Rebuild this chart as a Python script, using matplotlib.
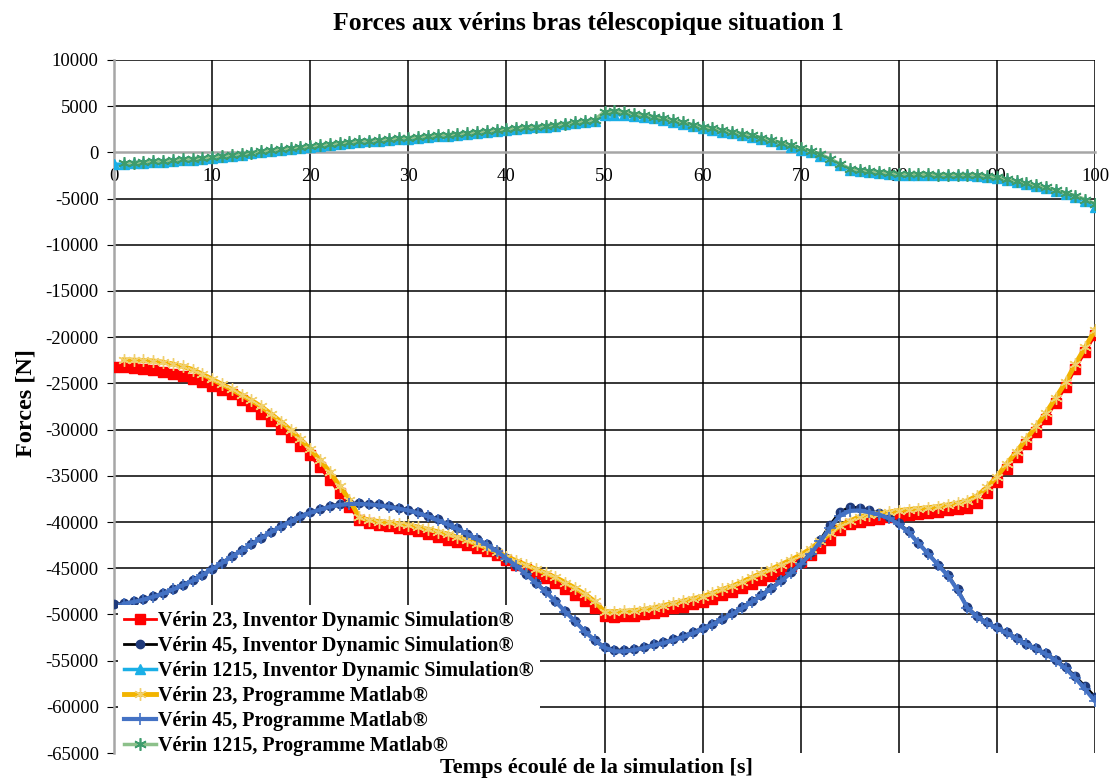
import numpy as np
import matplotlib.pyplot as plt
from matplotlib.ticker import MultipleLocator

plt.rcParams['font.family'] = ['Liberation Serif', 'DejaVu Serif']
plt.rcParams['axes.unicode_minus'] = False

# Temps [s]
t_inv = list(range(0, 101))
t_mat = list(range(1, 101))

# Forces [N] - Inventor Dynamic Simulation
verin23_inv = [
    -23200, -23250, -23300, -23400, -23550, -23750, -23980, -24250, -24550, -24900,
    -25280, -25700, -26200, -26750, -27500, -28300, -29100, -29950, -30850, -31800,
    -32800, -34100, -35450, -36900, -38330, -39800, -40150, -40300, -40450, -40600,
    -40750, -41000, -41300, -41600, -41900, -42200, -42500, -42800, -43150, -43600,
    -44100, -44600, -45100, -45600, -46100, -46650, -47250, -47850, -48500, -49300,
    -50200, -50250, -50200, -50150, -50000, -49800, -49600, -49350, -49150, -48900,
    -48700, -48350, -47950, -47550, -47150, -46700, -46250, -45800, -45300, -44800,
    -44280, -43600, -42800, -41900, -40900, -40200, -39960, -39800, -39650, -39500,
    -39340, -39220, -39100, -38990, -38870, -38750, -38630, -38450, -37900, -36900,
    -35630, -34300, -32950, -31600, -30250, -28800, -27100, -25400, -23400, -21600,
    -19800]
verin45_inv = [
    -48900, -48800, -48600, -48360, -48050, -47700, -47250, -46800, -46300, -45700,
    -45050, -44400, -43700, -43050, -42350, -41700, -41050, -40450, -39900, -39350,
    -38950, -38600, -38250, -38050, -37950, -37950, -38000, -38100, -38250, -38450,
    -38650, -38950, -39300, -39700, -40200, -40700, -41250, -41800, -42400, -43100,
    -43900, -44700, -45600, -46550, -47500, -48550, -49650, -50700, -51800, -52750,
    -53500, -53850, -53850, -53750, -53550, -53250, -53000, -52700, -52350, -51950,
    -51500, -51000, -50450, -49900, -49250, -48550, -47850, -47100, -46300, -45400,
    -44460, -43300, -41900, -40300, -38900, -38400, -38450, -38750, -39050, -39500,
    -40150, -41000, -42250, -43400, -44600, -45700, -47300, -49200, -50200, -50850,
    -51400, -51900, -52550, -53150, -53650, -54200, -54900, -55700, -56700, -57800,
    -58900]
verin1215_inv = [
    -1300, -1250, -1200, -1130, -1070, -1000, -930, -850, -770, -690,
    -600, -480, -360, -240, -120, 0, 120, 240, 360, 480,
    600, 700, 800, 900, 1000, 1100, 1180, 1260, 1340, 1420,
    1500, 1580, 1660, 1740, 1820, 1900, 2000, 2100, 2200, 2300,
    2400, 2500, 2600, 2700, 2800, 2900, 3020, 3150, 3280, 3450,
    4000, 4100, 4050, 3950, 3830, 3700, 3500, 3280, 3060, 2830,
    2600, 2420, 2240, 2060, 1880, 1700, 1450, 1180, 900, 600,
    300, 0, -350, -850, -1400, -1900, -2000, -2100, -2200, -2300,
    -2400, -2420, -2440, -2460, -2480, -2500, -2500, -2500, -2520, -2650,
    -2800, -3000, -3200, -3450, -3680, -3900, -4200, -4500, -4800, -5300,
    -5900]

# Forces [N] - Programme Matlab
verin23_mat = [
    -22450, -22480, -22520, -22570, -22700, -22900, -23150, -23500, -24000,
    -24550, -25100, -25650, -26250, -26850, -27500, -28300, -29150, -30050, -31050,
    -32130, -33300, -34600, -36100, -37600, -39500, -39800, -39950, -40050, -40180,
    -40320, -40550, -40800, -41050, -41300, -41650, -42000, -42400, -42800, -43250,
    -43740, -44200, -44650, -45100, -45550, -46000, -46550, -47150, -47800, -48600,
    -49700, -49700, -49650, -49590, -49450, -49300, -49050, -48800, -48550, -48300,
    -48070, -47700, -47300, -46950, -46500, -46000, -45550, -45100, -44600, -44100,
    -43560, -42900, -42100, -41200, -40400, -39900, -39420, -39250, -39100, -38930,
    -38760, -38650, -38550, -38450, -38330, -38150, -37950, -37700, -37150, -36250,
    -35090, -33700, -32400, -31000, -29650, -28200, -26550, -24900, -22900, -21100,
    -19200]
verin45_mat = [
    -48850, -48650, -48400, -48100, -47750, -47300, -46850, -46350, -45750,
    -45100, -44450, -43750, -43100, -42400, -41750, -41100, -40500, -39950, -39450,
    -39000, -38650, -38350, -38150, -38050, -38050, -38100, -38200, -38350, -38550,
    -38750, -39050, -39400, -39800, -40250, -40750, -41300, -41850, -42450, -43150,
    -43950, -44750, -45650, -46600, -47550, -48600, -49700, -50750, -51850, -52800,
    -53600, -54000, -54000, -53850, -53650, -53350, -53100, -52800, -52450, -52050,
    -51600, -51100, -50550, -50000, -49350, -48650, -47950, -47200, -46400, -45500,
    -44550, -43450, -42100, -40600, -39300, -38800, -38750, -38950, -39200, -39600,
    -40250, -41100, -42300, -43450, -44650, -45800, -47400, -49300, -50300, -50950,
    -51500, -52000, -52650, -53250, -53750, -54300, -55000, -55850, -56900, -58100,
    -59400]
verin1215_mat = [
    -1150, -1100, -1030, -970, -900, -830, -750, -670, -590,
    -500, -380, -260, -140, -20, 100, 220, 340, 460, 580,
    700, 800, 900, 1000, 1100, 1200, 1280, 1360, 1440, 1520,
    1600, 1680, 1760, 1840, 1920, 2000, 2100, 2200, 2300, 2400,
    2500, 2600, 2700, 2800, 2900, 3000, 3120, 3250, 3380, 3550,
    4400, 4450, 4350, 4200, 4050, 3880, 3680, 3460, 3240, 3010,
    2780, 2590, 2400, 2220, 2040, 1860, 1600, 1330, 1050, 750,
    450, 150, -200, -700, -1250, -1750, -1900, -2000, -2100, -2200,
    -2300, -2330, -2360, -2380, -2400, -2420, -2420, -2420, -2440, -2560,
    -2700, -2900, -3100, -3350, -3580, -3800, -4080, -4380, -4680, -5100,
    -5550]

fig = plt.figure(figsize=(11.16, 7.80), dpi=100)
ax = fig.add_axes([0.1022, 0.0346, 0.879, 0.8885])

ast = (6, 2, 0)
ax.plot(t_inv, verin23_inv, color='#FF0000', lw=2, marker='s', ms=6.5,
        mec='#FF0000', mfc='#FF0000', label='Vérin 23, Inventor Dynamic Simulation®', zorder=3)
ax.plot(t_inv, verin45_inv, color='#000000', lw=2, marker='o', ms=6,
        mec='#1F3A7A', mfc='#1F3A7A', label='Vérin 45, Inventor Dynamic Simulation®', zorder=3)
ax.plot(t_inv, verin1215_inv, color='#1AAFE6', lw=2.5, marker='^', ms=6.5,
        mec='#1AAFE6', mfc='#1AAFE6', label='Vérin 1215, Inventor Dynamic Simulation®', zorder=3)
ax.plot(t_mat, verin23_mat, color='#F2B400', lw=3.5, marker=ast, ms=9, mew=1,
        mec='#F0D070', label='Vérin 23, Programme Matlab®', zorder=4)
ax.plot(t_mat, verin45_mat, color='#4472C4', lw=3, marker='+', ms=9, mew=1.2,
        mec='#4472C4', label='Vérin 45, Programme Matlab®', zorder=4)
ax.plot(t_mat, verin1215_mat, color='#8CC08A', lw=2.5, marker=ast, ms=9, mew=1.2,
        mec='#3E9C6C', label='Vérin 1215, Programme Matlab®', zorder=4)

ax.set_xlim(0, 100)
ax.set_ylim(-65000, 10000)
ax.xaxis.set_major_locator(MultipleLocator(10))
ax.yaxis.set_major_locator(MultipleLocator(5000))

# grille noire, sauf la ligne du zero et l'axe vertical
ax.grid(True, color='black', lw=1.1, zorder=1)
for line, v in zip(ax.get_ygridlines(), ax.get_yticks()):
    if v == 0 or v == -65000:
        line.set_visible(False)
for line, v in zip(ax.get_xgridlines(), ax.get_xticks()):
    if v == 0:
        line.set_visible(False)

for s in ['top', 'right']:
    ax.spines[s].set_visible(False)
ax.spines['bottom'].set_position(('data', 0))
ax.spines['bottom'].set_color('#A6A6A6')
ax.spines['bottom'].set_linewidth(1.8)
ax.spines['left'].set_color('#A6A6A6')
ax.spines['left'].set_linewidth(1.8)

ax.tick_params(axis='x', length=0, pad=11, labelsize=13.5)
ax.tick_params(axis='y', direction='out', length=5, color='black', pad=6, labelsize=13.5)
for lab in ax.get_xticklabels():
    lab.set_zorder(5)

leg = ax.legend(loc='upper left', bbox_to_anchor=(0.004, 0.213), frameon=True,
                facecolor='white', edgecolor='none', framealpha=1, fancybox=False,
                prop={'weight': 'bold', 'size': 14.5}, handlelength=1.6,
                handletextpad=0.1, labelspacing=0.24, borderpad=0.3,
                borderaxespad=0.0)
leg.set_zorder(6)

fig.text(0.527, 0.970, 'Forces aux vérins bras télescopique situation 1',
         ha='center', va='center', fontsize=18.5, fontweight='bold')
fig.text(0.534, 0.0155, 'Temps écoulé de la simulation [s]',
         ha='center', va='center', fontsize=16, fontweight='bold')
fig.text(0.023, 0.483, 'Forces [N]', rotation=90,
         ha='center', va='center', fontsize=17.5, fontweight='bold')

plt.savefig('out.png', dpi=100)
